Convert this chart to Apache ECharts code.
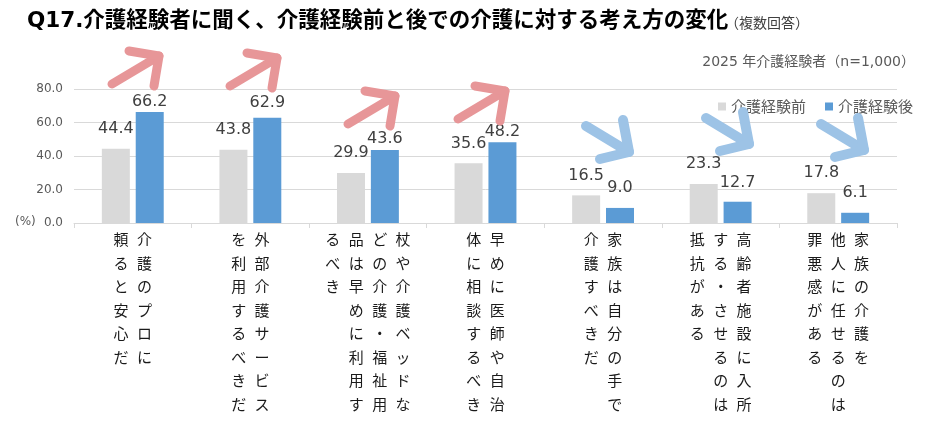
<!DOCTYPE html>
<html><head><meta charset="utf-8">
<script src="https://cdn.jsdelivr.net/npm/echarts@6/dist/echarts.min.js"></script>
<style>html,body{margin:0;padding:0;background:#fff}#c{width:942px;height:425px}</style>
</head><body><div id="c"></div>
<script>
// ---- data ----
const categoryColumns = [
  ['介護のプロに', '頼ると安心だ'],
  ['外部介護サービス', 'を利用するべきだ'],
  ['杖や介護ベッドな', 'どの介護・福祉用', '品は早めに利用す', 'るべき'],
  ['早めに医師や自治', '体に相談するべき'],
  ['家族は自分の手で', '介護すべきだ'],
  ['高齢者施設に入所', 'する・させるのは', '抵抗がある'],
  ['家族の介護を', '他人に任せるのは', '罪悪感がある']
];
const categories = categoryColumns.map(c => c.join(''));
const seriesNames = ['介護経験前', '介護経験後'];
const beforeValues = [44.4, 43.8, 29.9, 35.6, 16.5, 23.3, 17.8];
const afterValues = [66.2, 62.9, 43.6, 48.2, 9.0, 12.7, 6.1];
const yMin = 0, yMax = 80, yStep = 20;
const titleText = 'Q17.介護経験者に聞く、介護経験前と後での介護に対する考え方の変化';
const titleNote = '（複数回答）';
const subtitleText = '2025 年介護経験者（n=1,000）';
const unitText = '(%)';

// ---- styles (not data) ----
const beforeLabelGap = 12;
const afterLabelGap = [2, 7, 3, 2, 12, 11, 12];
const numFont = "'DejaVu Sans', 'Noto Sans CJK JP', sans-serif";
const jpFont = "'Noto Sans CJK JP', sans-serif";

function verticalLabel(value, index) {
  const cols = categoryColumns[index].map(s => Array.from(s));
  const rows = Math.max(...cols.map(c => c.length));
  const lines = [];
  for (let r = 0; r < rows; r++) {
    let line = '';
    for (let c = cols.length - 1; c >= 0; c--) {
      line += '{c|' + (cols[c][r] || '　') + '}';
    }
    lines.push(line);
  }
  return lines.join('\n');
}

// decorative arrows (annotation shapes)
const upTips = [[159, 56], [277, 58], [395, 96], [505, 91]];
const downTips = [[629, 152], [749, 144], [864, 150]];
const arrowGraphics = [];
upTips.forEach(([x, y]) => {
  arrowGraphics.push({type: 'polyline', z: 50, shape: {points: [[x - 47, y + 28], [x, y]]},
    style: {stroke: '#e79698', lineWidth: 9, lineCap: 'round', lineJoin: 'round', fill: null}});
  arrowGraphics.push({type: 'polyline', z: 50, shape: {points: [[x - 30, y - 5], [x, y], [x - 5, y + 30]]},
    style: {stroke: '#e79698', lineWidth: 9, lineCap: 'round', lineJoin: 'round', fill: null}});
});
downTips.forEach(([x, y]) => {
  arrowGraphics.push({type: 'polyline', z: 50, shape: {points: [[x - 43, y - 26], [x, y]]},
    style: {stroke: '#9dc3e6', lineWidth: 10, lineCap: 'round', lineJoin: 'round', fill: null}});
  arrowGraphics.push({type: 'polyline', z: 50, shape: {points: [[x - 6, y - 32], [x, y], [x - 29, y + 7]]},
    style: {stroke: '#9dc3e6', lineWidth: 10, lineCap: 'round', lineJoin: 'round', fill: null}});
});

const chart = echarts.init(document.getElementById('c'), null, {renderer: 'canvas'});
chart.setOption({
  animation: false,
  backgroundColor: '#fff',
  grid: {left: 74, right: 45, top: 89, bottom: 202, containLabel: false},
  legend: {
    data: seriesNames, left: 713, top: 94, icon: 'rect', itemWidth: 8, itemHeight: 8, itemGap: 19,
    textStyle: {fontSize: 15, color: '#595959', fontFamily: jpFont}
  },
  xAxis: {
    type: 'category', data: categories,
    axisLine: {lineStyle: {color: '#d9d9d9', width: 1}},
    axisTick: {show: true, length: 5, interval: 0, lineStyle: {color: '#d9d9d9'}},
    axisLabel: {
      interval: 0, margin: 5, formatter: verticalLabel, verticalAlign: 'top',
      rich: {c: {width: 23.4, align: 'center', fontSize: 15, lineHeight: 23.5, color: '#1a1a1a', fontFamily: jpFont}}
    }
  },
  yAxis: {
    type: 'value', min: yMin, max: yMax, interval: yStep,
    axisLine: {show: false}, axisTick: {show: false},
    splitLine: {lineStyle: {color: '#d9d9d9', width: 1}},
    axisLabel: {margin: 11, fontSize: 12, color: '#595959', fontFamily: numFont, formatter: v => v.toFixed(1)}
  },
  series: [
    {
      name: seriesNames[0], type: 'bar', barWidth: 28, barGap: '21%',
      itemStyle: {color: '#d9d9d9'},
      label: {show: true, position: 'top', distance: beforeLabelGap, fontSize: 16, color: '#404040', fontFamily: numFont,
        formatter: p => p.value.toFixed(1)},
      data: beforeValues
    },
    {
      name: seriesNames[1], type: 'bar', barWidth: 28, barGap: '21%',
      itemStyle: {color: '#5b9bd5'},
      label: {show: true, position: 'top', fontSize: 16, color: '#404040', fontFamily: numFont,
        formatter: p => Number(p.value).toFixed(1)},
      data: afterValues.map((v, i) => ({value: v, label: {distance: afterLabelGap[i]}}))
    }
  ],
  graphic: [
    {type: 'text', x: 27, y: 21, z: 60, style: {text: titleText, font: "bold 21.5px 'DejaVu Sans', 'Noto Sans CJK JP', sans-serif", fill: '#000', verticalAlign: 'middle'}},
    {type: 'text', x: 725, y: 23, z: 60, style: {text: titleNote, font: "14px 'Noto Sans CJK JP', sans-serif", fill: '#404040', verticalAlign: 'middle'}},
    {type: 'text', x: 915, y: 62, z: 60, style: {text: subtitleText, font: "14px 'DejaVu Sans', 'Noto Sans CJK JP', sans-serif", fill: '#595959', align: 'right', verticalAlign: 'middle'}},
    {type: 'text', x: 15, y: 222, z: 60, style: {text: unitText, font: "12px 'DejaVu Sans', sans-serif", fill: '#595959', verticalAlign: 'middle'}}
  ].concat(arrowGraphics)
});
</script>
</body></html>
